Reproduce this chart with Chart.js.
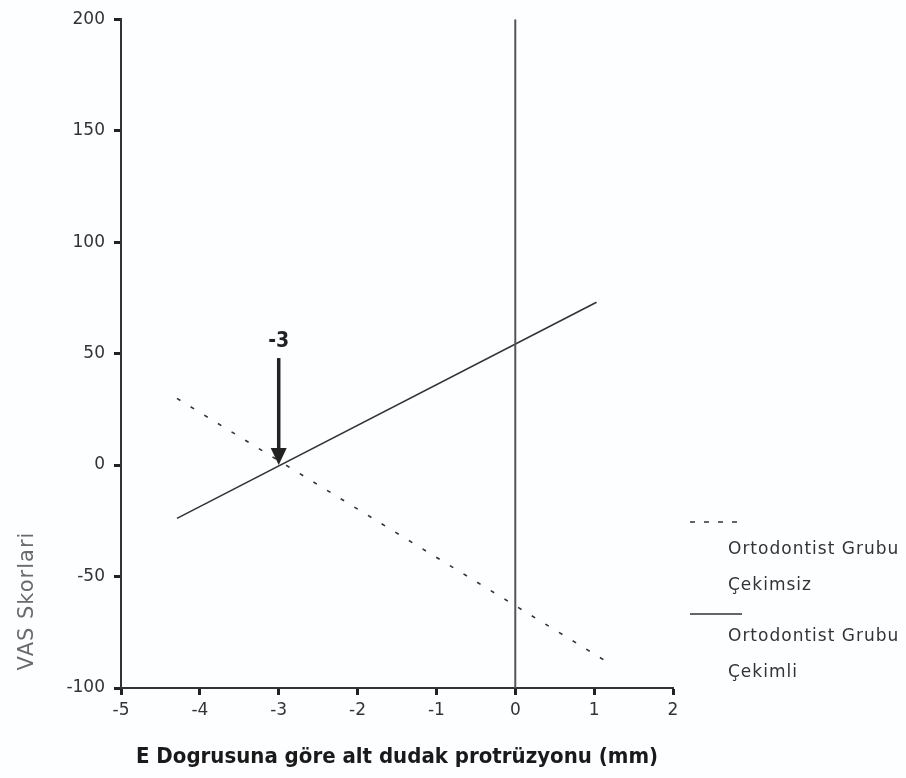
<!DOCTYPE html>
<html>
<head>
<meta charset="utf-8">
<script src="https://cdn.jsdelivr.net/npm/chart.js@4/dist/chart.umd.min.js"></script>
<style>
  body { margin: 0; background: #fcfeff; }
  #wrap { width: 906px; height: 778px; }
</style>
</head>
<body>
<div id="wrap"><canvas id="vas" width="906" height="778"></canvas></div>
<script>
// Regresyon dogrulari (x: mm, y: VAS)
const cekimsizX = [-4.29, 1.16];
const cekimsizY = [29.9, -88.2];
const cekimliX = [-4.29, 1.03];
const cekimliY = [-23.9, 73.0];

// x = 0 referans cizgisi
const sifirX = [0, 0];
const sifirY = [200, -100];

// kesisim oku
const okX = -3;
const okUst = 48;
const okAlt = 0;
const okEtiket = "-3";

const xTicks = [-5, -4, -3, -2, -1, 0, 1, 2];
const yTicks = [-100, -50, 0, 50, 100, 150, 200];

const legendLabels = [
  ["Ortodontist Grubu", "Çekimsiz"],
  ["Ortodontist Grubu", "Çekimli"]
];
const xTitle = "E Dogrusuna göre alt dudak protrüzyonu (mm)";
const yTitle = "VAS Skorlari";

const pts = (xs, ys) => xs.map((x, i) => ({ x: x, y: ys[i] }));

const tickFont = { family: "'DejaVu Sans', sans-serif", size: 17 };

// ok, eksen basliklari ve sag taraftaki aciklama
const extras = {
  id: "extras",
  afterDraw(chart) {
    const ctx = chart.ctx;
    const xs = chart.scales.x;
    const ys = chart.scales.y;
    ctx.save();

    // ok
    const ax = xs.getPixelForValue(okX);
    const top = ys.getPixelForValue(okUst);
    const bot = ys.getPixelForValue(okAlt);
    ctx.strokeStyle = "#222";
    ctx.fillStyle = "#222";
    ctx.lineWidth = 3.5;
    ctx.beginPath();
    ctx.moveTo(ax, top);
    ctx.lineTo(ax, bot - 14);
    ctx.stroke();
    ctx.beginPath();
    ctx.moveTo(ax - 8, bot - 17);
    ctx.lineTo(ax + 8, bot - 17);
    ctx.lineTo(ax, bot);
    ctx.closePath();
    ctx.fill();
    ctx.font = "bold 21px 'Liberation Sans Narrow', 'DejaVu Sans Condensed', sans-serif";
    ctx.textAlign = "center";
    ctx.textBaseline = "middle";
    ctx.fillText(okEtiket, ax, top - 17);

    // y basligi
    ctx.save();
    ctx.translate(28, 601);
    ctx.rotate(-Math.PI / 2);
    ctx.fillStyle = "#6a6a6a";
    ctx.font = "21px 'DejaVu Sans', sans-serif";
    ctx.letterSpacing = "1px";
    ctx.fillText(yTitle, 0, 0);
    ctx.restore();

    // x basligi
    ctx.fillStyle = "#1a1a1a";
    ctx.font = "bold 22px 'DejaVu Sans Condensed', sans-serif";
    ctx.fillText(xTitle, 397, 757);

    // aciklama
    const lx = 690, lw = 52, tx = 728;
    const rows = [
      { y: 522, dash: [5, 9], lines: legendLabels[0], ty: [550, 586] },
      { y: 614, dash: [], lines: legendLabels[1], ty: [637, 673] }
    ];
    ctx.textAlign = "left";
    ctx.font = "17px 'DejaVu Sans', sans-serif";
    ctx.letterSpacing = "1px";
    rows.forEach((r) => {
      ctx.strokeStyle = "#333";
      ctx.lineWidth = 1.6;
      ctx.setLineDash(r.dash);
      ctx.beginPath();
      ctx.moveTo(lx, r.y);
      ctx.lineTo(lx + lw, r.y);
      ctx.stroke();
      ctx.setLineDash([]);
      ctx.fillStyle = "#333";
      r.lines.forEach((t, i) => ctx.fillText(t, tx, r.ty[i]));
    });

    ctx.restore();
  }
};

new Chart(document.getElementById("vas"), {
  type: "scatter",
  data: {
    datasets: [
      {
        label: "x=0",
        data: pts(sifirX, sifirY),
        showLine: true,
        borderColor: "#555",
        borderWidth: 2,
        pointRadius: 0
      },
      {
        label: legendLabels[0].join(" "),
        data: pts(cekimsizX, cekimsizY),
        showLine: true,
        borderColor: "#333",
        borderWidth: 1.6,
        borderDash: [4, 12],
        pointRadius: 0
      },
      {
        label: legendLabels[1].join(" "),
        data: pts(cekimliX, cekimliY),
        showLine: true,
        borderColor: "#333",
        borderWidth: 1.6,
        pointRadius: 0
      }
    ]
  },
  options: {
    responsive: false,
    animation: false,
    layout: { padding: { top: 19, right: 233, bottom: 0, left: 0 } },
    scales: {
      x: {
        type: "linear",
        min: xTicks[0],
        max: xTicks[xTicks.length - 1],
        afterBuildTicks: (s) => { s.ticks = xTicks.map((v) => ({ value: v })); },
        afterFit: (s) => { s.height = 90; },
        grid: { drawOnChartArea: false, drawTicks: true, tickLength: 7, tickWidth: 3, tickColor: "#222" },
        border: { display: true, color: "#333", width: 2 },
        ticks: { color: "#333", font: tickFont, padding: 5 }
      },
      y: {
        type: "linear",
        min: yTicks[0],
        max: yTicks[yTicks.length - 1],
        afterBuildTicks: (s) => { s.ticks = yTicks.map((v) => ({ value: v })); },
        afterFit: (s) => { s.width = 121; },
        grid: { drawOnChartArea: false, drawTicks: true, tickLength: 7, tickWidth: 3, tickColor: "#222" },
        border: { display: true, color: "#333", width: 2 },
        ticks: { color: "#333", font: tickFont, padding: 9 }
      }
    },
    plugins: {
      legend: { display: false },
      tooltip: { enabled: false }
    }
  },
  plugins: [extras]
});
</script>
</body>
</html>
